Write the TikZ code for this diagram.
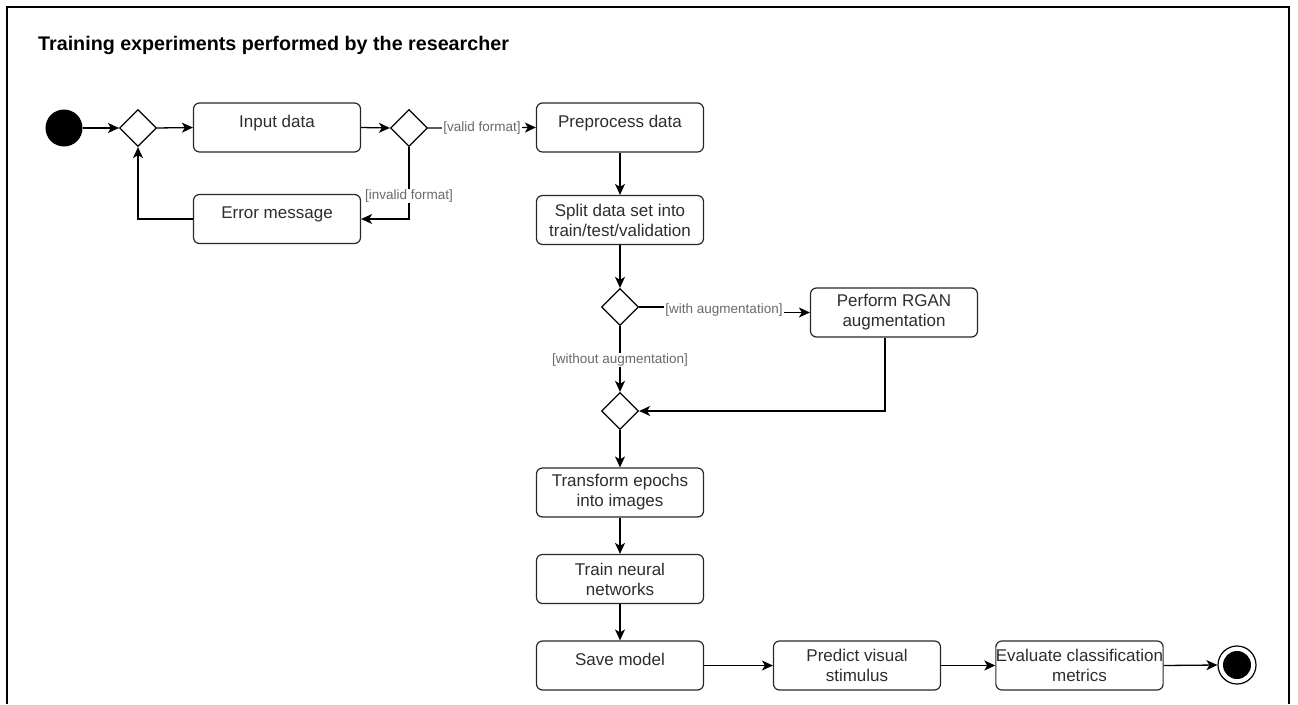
\documentclass[tikz,border=0pt]{standalone}
\usepackage{fontspec}
\setmainfont{Liberation Sans}
\usetikzlibrary{arrows.meta,shapes.geometric}
\definecolor{edgegray}{RGB}{105,105,105}
\definecolor{boxline}{RGB}{40,40,40}
\definecolor{boxtext}{RGB}{45,45,45}

\begin{document}
\begin{tikzpicture}[x=1pt,y=-1pt,
  action/.style={draw=boxline, line width=1.2pt, rounded corners=6pt,
    minimum width=167pt, minimum height=49pt, inner xsep=0pt, inner ysep=2pt,
    align=center, text=boxtext, font=\fontsize{17}{20}\selectfont},
  oneline/.style={text height=11pt, text depth=12pt},
  decision/.style={diamond, draw=black, line width=1.2pt, minimum width=37pt,
    minimum height=37pt, inner sep=0pt},
  flow/.style={draw=black, line width=1.3pt,
    -{Stealth[length=11pt,width=10pt,inset=3pt]}},
  guard/.style={fill=white, text=edgegray, inner sep=1pt,
    font=\fontsize{13.5}{16}\selectfont},
]
\useasboundingbox (0,0) rectangle (1298,704);

% outer frame (open at the bottom)
\draw[line width=1.5pt] (7,704) -- (7,7) -- (1289,7) -- (1289,704);

% title
\node[anchor=base west, inner sep=0pt, font=\fontsize{19.7}{24}\selectfont\bfseries]
  (title) at (38,50) {Training experiments performed by the researcher};

% initial and final states
\node[circle, fill=black, minimum size=37pt, inner sep=0pt] (start) at (64,128) {};
\node[circle, draw=black, line width=1.2pt, fill=white, minimum size=38pt, inner sep=0pt] (stop) at (1237,665) {};
\node[circle, fill=black, minimum size=28pt, inner sep=0pt] (stopdot) at (stop) {};

% decisions / merges
\node[decision] (d1) at (138,128) {};
\node[decision] (d2) at (409,128) {};
\node[decision] (d3) at (620,307) {};
\node[decision] (d4) at (620,411) {};

% actions
\node[action, oneline] (input) at (277,127.5) {Input data};
\node[action, oneline] (err) at (277,219) {Error message};
\node[action, oneline] (pre) at (620,127.5) {Preprocess data};
\node[action] (split) at (620,220) {Split data set into\\train/test/validation};
\node[action] (rgan) at (894,312.5) {Perform RGAN\\augmentation};
\node[action] (trans) at (620,492.5) {Transform epochs\\into images};
\node[action] (train) at (620,579) {Train neural\\networks};
\node[action, oneline] (save) at (620,665.5) {Save model};
\node[action] (predict) at (857,665.5) {Predict visual\\stimulus};
\node[action] (eval) at (1079.5,665.5) {Evaluate classification\\metrics};

% control flow
\draw[flow] (start.east) -- (d1.west);
\draw[flow] (d1.east) -- (input.west);
\draw[flow] (input.east) -- (d2.west);
\draw[flow] (d2.east) -- node[guard] (gvalid) {[valid format]} (pre.west);
\draw[flow] (d2.south) |- (err.east);
\node[guard] (ginvalid) at (409,196) {[invalid format]};
\draw[flow] (err.west) -| (d1.south);
\draw[flow] (pre.south) -- (split.north);
\draw[flow] (split.south) -- (d3.north);
\coordinate (jog) at (724,310);
\draw[flow] (d3.east) -| (jog) |- (rgan.west);
\node[guard] (gwith) at (jog) {[with augmentation]};
\draw[flow] (d3.south) -- (d4.north);
\node[guard] (gwithout) at (620,360) {[without augmentation]};
\draw[flow] ([xshift=-9pt]rgan.south) |- (d4.east);
\draw[flow] (d4.south) -- (trans.north);
\draw[flow] (trans.south) -- (train.north);
\draw[flow] (train.south) -- (save.north);
\draw[flow] (save.east) -- (predict.west);
\draw[flow] (predict.east) -- (eval.west);
\draw[flow] (eval.east) -- (stop.west);
\end{tikzpicture}
\end{document}
